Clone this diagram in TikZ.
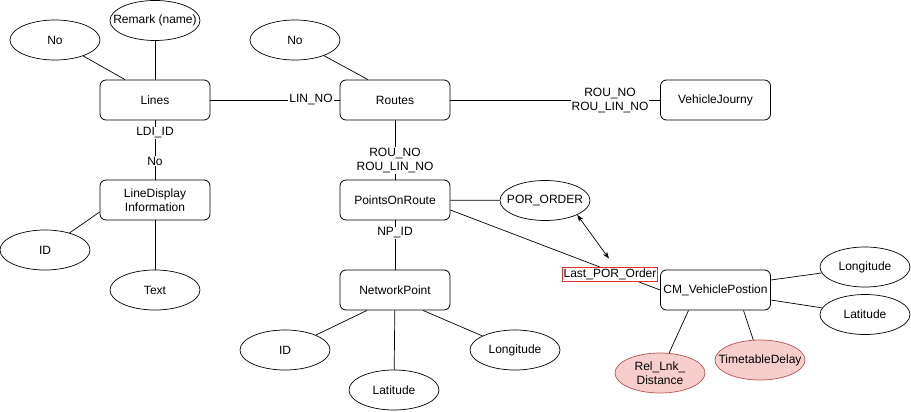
\documentclass[tikz,border=0pt]{standalone}
\usepackage{fontspec}
\setmainfont{Liberation Sans}
\usetikzlibrary{shapes.geometric,arrows.meta,calc}
\definecolor{redfill}{HTML}{F8CECC}
\definecolor{redline}{HTML}{B85450}
\definecolor{lblred}{HTML}{E8302A}
\tikzset{
  entity/.style={draw, rounded corners=6pt, minimum width=110pt, minimum height=40pt, align=center, inner sep=1pt, line width=0.8pt},
  attr/.style={draw, ellipse, minimum width=90pt, minimum height=40pt, inner xsep=-14pt, inner ysep=-2pt, align=center, line width=0.7pt},
  redattr/.style={attr, fill=redfill, draw=redline},
  elabel/.style={fill=white, inner sep=1pt, align=center},
  conn/.style={line width=0.7pt},
}
\begin{document}
\begin{tikzpicture}[x=1pt,y=-1pt,font=\fontsize{12}{14}\selectfont]
\useasboundingbox (0,0) rectangle (911,412);
% entities
\node[entity] (lines) at (155,100) {Lines};
\node[entity] (routes) at (395,100) {Routes};
\node[entity] (vj) at (715.5,100) {VehicleJourny};
\node[entity] (ld) at (155,200) {LineDisplay\\Information};
\node[entity] (por) at (395,200) {PointsOnRoute};
\node[entity] (np) at (395,290) {NetworkPoint};
\node[entity] (cm) at (715.5,290) {CM\_VehiclePostion};
% attributes
\node[attr] (noL) at (55,40) {No};
\node[attr] (remark) at (155,20.5) {Remark (name)};
\node[attr] (noR) at (295,40) {No};
\node[attr] (idL) at (45,250) {ID};
\node[attr] (text) at (155,290) {Text};
\node[attr] (pord) at (545,200.5) {POR\_ORDER};
\node[attr] (idN) at (285,350) {ID};
\node[attr] (latN) at (394,390) {Latitude};
\node[attr] (lonN) at (515,350) {Longitude};
\node[attr] (lonC) at (865,267) {Longitude};
\node[attr] (latC) at (865,314.5) {Latitude};
\node[redattr] (rel) at (660,373) {Rel\_Lnk\_\\Distance};
\node[redattr] (tt) at (760,360) {TimetableDelay};
% connectors
\draw[conn] (noL) -- ([xshift=-30pt]lines.north);
\draw[conn] (remark) -- (lines);
\draw[conn] (noR) -- ([xshift=-27pt]routes.north);
\draw[conn] (lines) -- (routes);
\draw[conn] (routes) -- (vj);
\draw[conn] (lines) -- (ld);
\draw[conn] (routes) -- (por);
\draw[conn] (por) -- (pord);
\draw[conn] (por) -- (np);
\draw[conn] (idL) -- ([yshift=-12pt]ld.west);
\draw[conn] (ld) -- (text);
\draw[conn] (idN) -- ([xshift=-28pt]np.south);
\draw[conn] (np) -- (latN);
\draw[conn] (lonN) -- ([xshift=28pt]np.south);
\draw[conn] ([yshift=10pt]cm.east) -- (lonC);
\draw[conn] ([yshift=-10pt]cm.east) -- (latC);
\draw[conn] ([xshift=-27pt]cm.south) -- (rel);
\draw[conn] ([xshift=28pt]cm.south) -- (tt);
\draw[conn] ([yshift=-10pt]por.east) -- (cm.west);
% edge labels
\node[elabel] (lLIN) at (311,100) {LIN\_NO};
\node[elabel] (lVJ) at (610,100.5) {ROU\_NO\\ROU\_LIN\_NO};
\node[elabel] (lLDI) at (155,133) {LDI\_ID};
\node[elabel] (lNo) at (155,161) {No};
\node[elabel] (lPOR) at (395,160.5) {ROU\_NO\\ROU\_LIN\_NO};
\node[elabel] (lNP) at (395,233) {NP\_ID};
\node[draw=lblred, fill=white, inner sep=1pt, minimum height=14pt, line width=0.7pt] (lbl) at (610,274) {Last\_POR\_Order};
\draw[conn, {Stealth[length=7pt,width=5pt]}-{Stealth[length=7pt,width=5pt]}] (pord.-24) -- ($(lbl.north)+(-1,-8)$);
\end{tikzpicture}
\end{document}
